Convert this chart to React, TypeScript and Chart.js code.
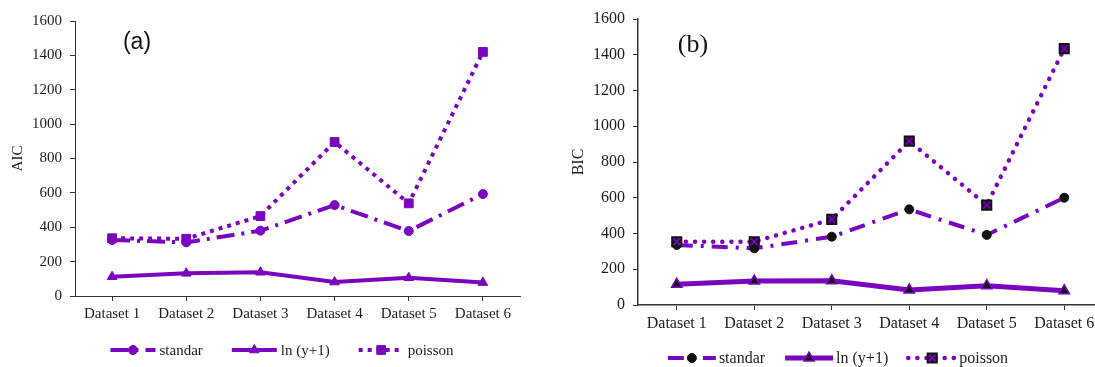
import React, { useEffect, useRef } from 'react';
import { Chart, registerables } from 'chart.js';

Chart.register(...registerables);

// ---------- data ----------
const categories = ['Dataset 1', 'Dataset 2', 'Dataset 3', 'Dataset 4', 'Dataset 5', 'Dataset 6'];
const seriesNames = ['standar', 'ln (y+1)', 'poisson'];

const aicStandar = [326, 312, 380, 529, 378, 593];
const aicLn = [112, 132, 138, 81, 106, 78];
const aicPoisson = [336, 333, 465, 896, 539, 1420];

const bicStandar = [336, 317, 382, 535, 392, 600];
const bicLn = [116, 134, 136, 84, 108, 80];
const bicPoisson = [354, 354, 479, 917, 559, 1434];

const yMin = 0;
const yMax = 1600;
const yStep = 200;

// ---------- styles ----------
const PURPLE = '#7b05bf';
const DARK = '#1e1e1e';
const AXIS = '#333333';

function drawMarker(ctx: CanvasRenderingContext2D, m: any, x: number, y: number) {
  if (!m) return;
  ctx.save();
  ctx.fillStyle = m.fill;
  ctx.strokeStyle = m.stroke;
  ctx.lineWidth = m.lineWidth || 1;
  ctx.setLineDash([]);
  ctx.beginPath();
  const r = m.radius;
  if (m.style === 'circle') {
    ctx.arc(x, y, r, 0, Math.PI * 2);
  } else if (m.style === 'triangle') {
    for (let i = 0; i < 3; i++) {
      const a = (i * 2 * Math.PI) / 3;
      const px = x + Math.sin(a) * r;
      const py = y - Math.cos(a) * r;
      if (i === 0) ctx.moveTo(px, py);
      else ctx.lineTo(px, py);
    }
    ctx.closePath();
  } else if (m.style === 'rect') {
    const s = Math.SQRT1_2 * r;
    ctx.rect(x - s, y - s, 2 * s, 2 * s);
  }
  ctx.fill();
  if (m.lineWidth) ctx.stroke();
  if (m.cross) {
    const c = m.cross.radius * Math.SQRT1_2;
    ctx.beginPath();
    ctx.strokeStyle = m.cross.color;
    ctx.lineWidth = m.cross.width;
    ctx.moveTo(x - c, y - c);
    ctx.lineTo(x + c, y + c);
    ctx.moveTo(x + c, y - c);
    ctx.lineTo(x - c, y + c);
    ctx.stroke();
  }
  ctx.restore();
}

const excelLegend = {
  id: 'excelLegend',
  afterDraw(chart: any, _args: any, opts: any) {
    const ctx: CanvasRenderingContext2D = chart.ctx;
    const items = chart.data.datasets.filter((d: any) => !d.hideInLegend);
    ctx.save();
    ctx.font = opts.font;
    const widths = items.map(
      (d: any) => opts.sampleWidth + opts.textGap + ctx.measureText(d.label).width
    );
    const total = widths.reduce((a: number, b: number) => a + b, 0) + opts.itemGap * (items.length - 1);
    let x = opts.centerX - total / 2;
    const y = opts.y;
    items.forEach((d: any, i: number) => {
      ctx.save();
      ctx.strokeStyle = d.borderColor;
      ctx.lineWidth = d.borderWidth;
      ctx.setLineDash(d.borderDash || []);
      ctx.lineCap = d.borderCapStyle || 'butt';
      ctx.beginPath();
      ctx.moveTo(x, y);
      ctx.lineTo(x + opts.sampleWidth, y);
      ctx.stroke();
      ctx.restore();
      drawMarker(ctx, d.legendMarker, x + opts.sampleWidth / 2, y);
      ctx.fillStyle = opts.color;
      ctx.textBaseline = 'middle';
      ctx.textAlign = 'left';
      ctx.fillText(d.label, x + opts.sampleWidth + opts.textGap, y + 1);
      x += widths[i] + opts.itemGap;
    });
    ctx.restore();
  },
};

const panelLabel = {
  id: 'panelLabel',
  afterDraw(chart: any, _args: any, opts: any) {
    const ctx: CanvasRenderingContext2D = chart.ctx;
    ctx.save();
    ctx.font = opts.font;
    ctx.fillStyle = opts.color;
    ctx.textAlign = 'center';
    ctx.textBaseline = 'middle';
    ctx.fillText(opts.text, opts.x, opts.y);
    ctx.restore();
  },
};

function buildConfig(p: any): any {
  return {
    type: 'line',
    data: { labels: categories, datasets: p.datasets },
    options: {
      animation: false,
      responsive: false,
      layout: { padding: p.padding },
      elements: { line: { tension: 0 } },
      plugins: {
        legend: { display: false },
        tooltip: { enabled: false },
        excelLegend: p.legend,
        panelLabel: p.label,
      },
      scales: {
        x: {
          offset: true,
          grid: {
            offset: false,
            drawOnChartArea: false,
            drawTicks: true,
            tickLength: 5,
            tickColor: AXIS,
          },
          border: { display: true, color: AXIS, width: p.axisWidth },
          ticks: {
            color: DARK,
            padding: 4,
            maxRotation: 0,
            autoSkip: false,
            font: { family: '"Liberation Serif", "Times New Roman", serif', size: p.fontSize },
          },
          afterFit: (s: any) => {
            s.height = 30;
          },
        },
        y: {
          min: yMin,
          max: yMax,
          grid: {
            drawOnChartArea: false,
            drawTicks: true,
            tickLength: 5,
            tickColor: AXIS,
          },
          border: { display: true, color: AXIS, width: p.axisWidth },
          ticks: {
            stepSize: yStep,
            color: DARK,
            padding: 8,
            callback: (v: any) => String(v),
            font: { family: '"Liberation Serif", "Times New Roman", serif', size: p.fontSize },
          },
          title: {
            display: true,
            text: p.yTitle,
            color: DARK,
            padding: { top: p.titlePad, bottom: 0 },
            font: { family: '"Liberation Serif", "Times New Roman", serif', size: p.fontSize },
          },
          afterFit: (s: any) => {
            s.width = p.yWidth;
          },
        },
      },
    },
    plugins: [excelLegend, panelLabel],
  };
}

function leftDatasets() {
  return [
    {
      label: seriesNames[0],
      data: aicStandar,
      borderColor: PURPLE,
      backgroundColor: PURPLE,
      borderWidth: 4,
      borderDash: [18, 7, 3, 7],
      pointStyle: 'circle',
      pointRadius: 4.5,
      pointBackgroundColor: PURPLE,
      pointBorderColor: PURPLE,
      pointBorderWidth: 1,
      legendMarker: { style: 'circle', radius: 4.5, fill: PURPLE, stroke: PURPLE, lineWidth: 1 },
    },
    {
      label: seriesNames[1],
      data: aicLn,
      borderColor: PURPLE,
      backgroundColor: PURPLE,
      borderWidth: 4,
      pointStyle: 'triangle',
      pointRadius: 5.5,
      pointBackgroundColor: PURPLE,
      pointBorderColor: PURPLE,
      pointBorderWidth: 1,
      legendMarker: { style: 'triangle', radius: 5.5, fill: PURPLE, stroke: PURPLE, lineWidth: 1 },
    },
    {
      label: seriesNames[2],
      data: aicPoisson,
      borderColor: PURPLE,
      backgroundColor: PURPLE,
      borderWidth: 4,
      borderDash: [4, 5],
      pointStyle: 'rect',
      pointRadius: 6.2,
      pointBackgroundColor: PURPLE,
      pointBorderColor: PURPLE,
      pointBorderWidth: 1,
      legendMarker: { style: 'rect', radius: 6.2, fill: PURPLE, stroke: PURPLE, lineWidth: 1 },
    },
  ];
}

function rightDatasets() {
  return [
    {
      label: seriesNames[0],
      data: bicStandar,
      borderColor: PURPLE,
      backgroundColor: '#111111',
      borderWidth: 4,
      borderDash: [16, 8, 3, 8],
      pointStyle: 'circle',
      pointRadius: 4.5,
      pointBackgroundColor: '#111111',
      pointBorderColor: '#111111',
      pointBorderWidth: 1,
      legendMarker: { style: 'circle', radius: 4.5, fill: '#111111', stroke: '#111111', lineWidth: 1 },
    },
    {
      label: seriesNames[1],
      data: bicLn,
      borderColor: PURPLE,
      backgroundColor: '#111111',
      borderWidth: 5,
      pointStyle: 'triangle',
      pointRadius: 6,
      pointBackgroundColor: '#111111',
      pointBorderColor: PURPLE,
      pointBorderWidth: 1.5,
      legendMarker: { style: 'triangle', radius: 6, fill: '#111111', stroke: PURPLE, lineWidth: 1.5 },
    },
    {
      label: seriesNames[2],
      data: bicPoisson,
      borderColor: PURPLE,
      backgroundColor: '#2a0a3c',
      borderWidth: 4.5,
      borderDash: [0.1, 9],
      borderCapStyle: 'round',
      pointStyle: 'rect',
      pointRadius: 6.8,
      pointBackgroundColor: '#2a0a3c',
      pointBorderColor: '#111111',
      pointBorderWidth: 1.5,
      legendMarker: {
        style: 'rect',
        radius: 6.8,
        fill: '#2a0a3c',
        stroke: '#111111',
        lineWidth: 1.5,
        cross: { radius: 4.8, color: PURPLE, width: 1.5 },
      },
    },
    {
      label: seriesNames[2] + ' marker',
      data: bicPoisson,
      hideInLegend: true,
      showLine: false,
      order: -1,
      borderColor: PURPLE,
      pointStyle: 'crossRot',
      pointRadius: 4.8,
      pointBorderColor: PURPLE,
      pointBorderWidth: 1.5,
    },
  ];
}

function ChartCanvas({ config, width, height, left }: any) {
  const ref = useRef<HTMLCanvasElement | null>(null);
  useEffect(() => {
    if (!ref.current) return;
    const chart = new Chart(ref.current, config);
    return () => chart.destroy();
  }, []);
  return (
    <canvas
      ref={ref}
      width={width}
      height={height}
      style={{ position: 'absolute', left, top: 0, width, height }}
    />
  );
}

export default function App() {
  const leftConfig = buildConfig({
    datasets: leftDatasets(),
    padding: { left: 0, right: 20, top: 21, bottom: 41 },
    yWidth: 75,
    fontSize: 15,
    axisWidth: 1,
    yTitle: 'AIC',
    titlePad: 9,
    legend: {
      font: '15px "Liberation Serif", "Times New Roman", serif',
      color: DARK,
      sampleWidth: 45,
      textGap: 4,
      itemGap: 29,
      centerX: 282,
      y: 350,
    },
    label: {
      text: '(a)',
      font: '23px "Liberation Sans", Arial, sans-serif',
      color: '#111111',
      x: 137,
      y: 43,
    },
  });

  const rightConfig = buildConfig({
    datasets: rightDatasets(),
    padding: { left: 0, right: 17, top: 19, bottom: 32 },
    yWidth: 98,
    fontSize: 16,
    axisWidth: 1.5,
    yTitle: 'BIC',
    titlePad: 29,
    legend: {
      font: '16px "Liberation Serif", "Times New Roman", serif',
      color: DARK,
      sampleWidth: 48,
      textGap: 3,
      itemGap: 20,
      centerX: 298,
      y: 358,
    },
    label: {
      text: '(b)',
      font: '26px "Liberation Serif", "Times New Roman", serif',
      color: '#111111',
      x: 153,
      y: 45,
    },
  });

  return (
    <div
      style={{
        position: 'absolute',
        left: 0,
        top: 0,
        width: 1095,
        height: 367,
        overflow: 'hidden',
        background: '#ffffff',
      }}
    >
      <ChartCanvas config={leftConfig} width={540} height={367} left={0} />
      <ChartCanvas config={rightConfig} width={580} height={367} left={540} />
    </div>
  );
}
